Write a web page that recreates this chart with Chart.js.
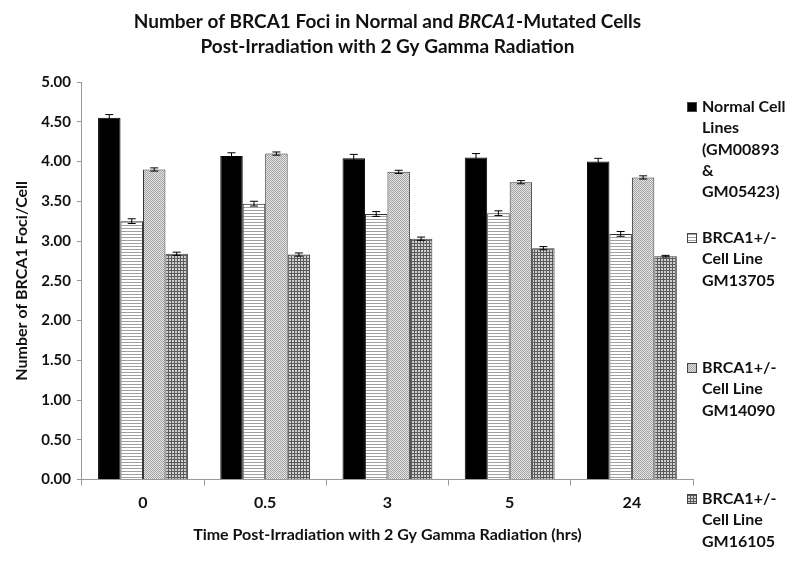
<!DOCTYPE html>
<html>
<head>
<meta charset="utf-8">
<script src="https://cdn.jsdelivr.net/npm/chart.js@4.4.0/dist/chart.umd.min.js"></script>
<style>
  html, body { margin: 0; padding: 0; background: #fff; }
  #wrap { width: 788px; height: 578px; }
</style>
</head>
<body>
<div id="wrap"><canvas id="fociChart" width="788" height="578"></canvas></div>
<script>
var timeLabels = ['0', '0.5', '3', '5', '24'];
var normalFoci = [4.55, 4.07, 4.04, 4.05, 4.00];
var gm13705Foci = [3.25, 3.47, 3.34, 3.35, 3.09];
var gm14090Foci = [3.90, 4.10, 3.87, 3.74, 3.80];
var gm16105Foci = [2.84, 2.83, 3.03, 2.91, 2.81];
var normalErr = [0.04, 0.04, 0.05, 0.05, 0.04];
var gm13705Err = [0.03, 0.03, 0.03, 0.03, 0.03];
var gm14090Err = [0.02, 0.02, 0.02, 0.02, 0.02];
var gm16105Err = [0.02, 0.02, 0.02, 0.02, 0.01];
var seriesNames = [
	['Normal Cell', 'Lines', '(GM00893', '&', 'GM05423)'],
	['BRCA1+/-', 'Cell Line', 'GM13705'],
	['BRCA1+/-', 'Cell Line', 'GM14090'],
	['BRCA1+/-', 'Cell Line', 'GM16105']
];

var FONT = 'Lato, "Open Sans", sans-serif';

function makePattern(kind) {
	var c = document.createElement('canvas');
	var ctx = c.getContext('2d');
	if (kind == 'horiz') {
		c.width = 4; c.height = 3;
		ctx.fillStyle = '#ffffff'; ctx.fillRect(0, 0, 4, 3);
		ctx.fillStyle = '#a0a0a0'; ctx.fillRect(0, 0, 4, 1);
	} else if (kind == 'diag') {
		c.width = 2; c.height = 2;
		ctx.fillStyle = '#e4e4e4'; ctx.fillRect(0, 0, 2, 2);
		ctx.fillStyle = '#a4a4a4';
		ctx.fillRect(0, 0, 1, 1);
		ctx.fillRect(1, 1, 1, 1);
	} else {
		c.width = 3; c.height = 3;
		ctx.fillStyle = '#d0d0d0'; ctx.fillRect(0, 0, 3, 3);
		ctx.fillStyle = '#5a5a5a';
		ctx.fillRect(0, 0, 3, 1);
		ctx.fillRect(0, 0, 1, 3);
	}
	return document.getElementById('fociChart').getContext('2d').createPattern(c, 'repeat');
}

var fills = ['#000000', makePattern('horiz'), makePattern('diag'), makePattern('cross')];
var errors = [normalErr, gm13705Err, gm14090Err, gm16105Err];

var titlePlugin = {
	id: 'twoLineTitle',
	afterDraw: function (chart) {
		var ctx = chart.ctx, area = chart.chartArea;
		var cx = (area.left + area.right) / 2;
		var parts = [
			['Number of BRCA1 Foci in Normal and ', ''],
			['BRCA1', 'italic '],
			['-Mutated Cells', '']
		];
		ctx.save();
		ctx.fillStyle = '#111';
		ctx.textBaseline = 'middle';
		ctx.textAlign = 'left';
		var total = 0;
		parts.forEach(function (p) {
			ctx.font = p[1] + 'bold 19px ' + FONT;
			total += ctx.measureText(p[0]).width;
		});
		var x = cx - total / 2;
		parts.forEach(function (p) {
			ctx.font = p[1] + 'bold 19px ' + FONT;
			ctx.fillText(p[0], x, 22);
			x += ctx.measureText(p[0]).width;
		});
		ctx.font = 'bold 19px ' + FONT;
		ctx.textAlign = 'center';
		ctx.fillText('Post-Irradiation with 2 Gy Gamma Radiation', cx, 47);
		ctx.restore();
	}
};

var legendPlugin = {
	id: 'sideLegend',
	afterDraw: function (chart) {
		var ctx = chart.ctx;
		var tops = [107, 238, 368, 499];
		ctx.save();
		ctx.font = 'bold 16px ' + FONT;
		ctx.textBaseline = 'middle';
		ctx.textAlign = 'left';
		for (var i = 0; i < seriesNames.length; i++) {
			ctx.fillStyle = fills[i];
			ctx.fillRect(687, tops[i] - 5, 10, 10);
			ctx.strokeStyle = '#444';
			ctx.lineWidth = 1;
			ctx.strokeRect(687.5, tops[i] - 4.5, 9, 9);
			ctx.fillStyle = '#111';
			for (var k = 0; k < seriesNames[i].length; k++) {
				ctx.fillText(seriesNames[i][k], 702, tops[i] + k * 21.3);
			}
		}
		ctx.restore();
	}
};

var errorBarPlugin = {
	id: 'errorBars',
	afterDatasetsDraw: function (chart) {
		var ctx = chart.ctx, yScale = chart.scales.y;
		ctx.save();
		ctx.strokeStyle = '#000';
		ctx.lineWidth = 1;
		chart.data.datasets.forEach(function (ds, di) {
			var meta = chart.getDatasetMeta(di);
			meta.data.forEach(function (bar, i) {
				var v = ds.data[i], e = errors[di][i];
				var yt = yScale.getPixelForValue(v + e);
				var yb = yScale.getPixelForValue(v - e);
				ctx.beginPath();
				ctx.moveTo(bar.x, yt); ctx.lineTo(bar.x, yb);
				ctx.moveTo(bar.x - 4, yt); ctx.lineTo(bar.x + 4, yt);
				ctx.moveTo(bar.x - 4, yb); ctx.lineTo(bar.x + 4, yb);
				ctx.stroke();
			});
		});
		ctx.restore();
	}
};

var allSeries = [normalFoci, gm13705Foci, gm14090Foci, gm16105Foci];
var datasets = [];
for (var s = 0; s < allSeries.length; s++) {
	datasets.push({
		label: seriesNames[s].join(' '),
		data: allSeries[s],
		backgroundColor: fills[s],
		borderColor: s == 0 ? '#000' : '#333',
		borderWidth: 1,
		categoryPercentage: 0.735,
		barPercentage: 1.0
	});
}

var fociChart = new Chart(document.getElementById('fociChart').getContext('2d'), {
	type: 'bar',
	data: { labels: timeLabels, datasets: datasets },
	plugins: [titlePlugin, legendPlugin, errorBarPlugin],
	options: {
		responsive: false,
		animation: false,
		layout: { padding: { top: 82, right: 95, bottom: 30, left: 8 } },
		plugins: { legend: { display: false }, title: { display: false }, tooltip: { enabled: false } },
		scales: {
			x: {
				grid: { display: true, drawOnChartArea: false, drawTicks: true, tickLength: 6, color: '#999', offset: true },
				border: { color: '#999' },
				ticks: { color: '#111', font: { family: FONT, size: 16, weight: 'bold' }, padding: 8 },
				title: { display: true, text: 'Time Post-Irradiation with 2 Gy Gamma Radiation (hrs)', color: '#111', font: { family: FONT, size: 16, weight: 'bold' }, padding: { top: 4 } }
			},
			y: {
				min: 0, max: 5,
				grid: { display: true, drawOnChartArea: false, drawTicks: true, tickLength: 5, color: '#999' },
				border: { color: '#999' },
				ticks: { stepSize: 0.5, color: '#111', font: { family: FONT, size: 15, weight: 'bold' }, padding: 6,
					callback: function (v) { return v.toFixed(2); } },
				title: { display: true, text: 'Number of BRCA1 Foci/Cell', color: '#111', font: { family: FONT, size: 16, weight: 'bold' }, padding: { bottom: 4 } }
			}
		}
	}
});
</script>
</body>
</html>
